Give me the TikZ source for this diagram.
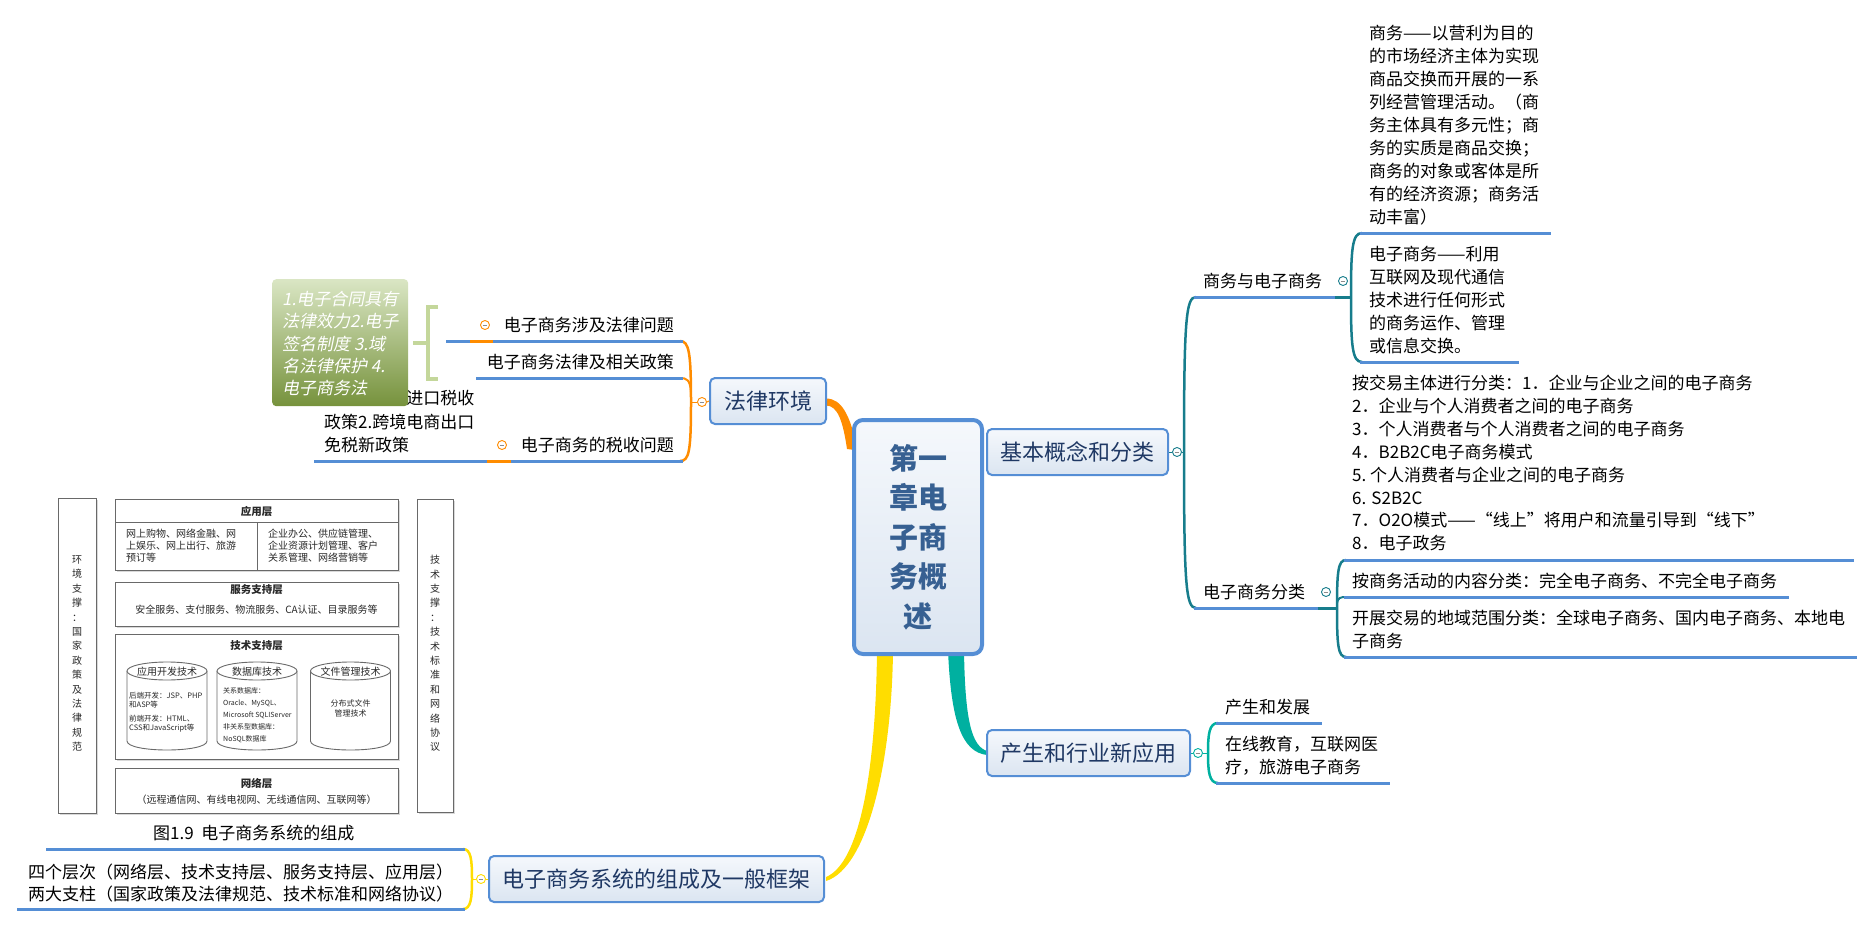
\documentclass[tikz,border=0pt]{standalone}
\usepackage{fontspec}
\setmainfont{Noto Sans CJK SC}
\newfontfamily\slantcjk[FakeSlant=0.2]{Noto Sans CJK SC}
\definecolor{ublue}{RGB}{85,142,213}
\definecolor{orangeL}{RGB}{255,140,0}
\definecolor{tealD}{RGB}{23,125,140}
\definecolor{tealL}{RGB}{0,176,160}
\definecolor{yelL}{RGB}{255,221,0}
\definecolor{navy}{RGB}{31,56,100}
\definecolor{roottext}{RGB}{55,96,146}
\definecolor{fillTop}{RGB}{245,248,252}
\definecolor{fillBot}{RGB}{219,229,241}
\definecolor{greenTop}{RGB}{218,230,196}
\definecolor{greenBot}{RGB}{118,146,60}
\definecolor{brkgreen}{RGB}{196,215,155}
\definecolor{figline}{RGB}{105,105,105}
\definecolor{figtext}{RGB}{40,40,40}
\begin{document}
\begin{tikzpicture}[x=1pt,y=-1pt,
  mainbox/.style={draw=ublue, line width=2pt, rounded corners=5pt, top color=fillTop, bottom color=fillBot, text=navy, font=\fontsize{22}{26}\selectfont, inner sep=0pt},
  rootbox/.style={draw=ublue, line width=4pt, rounded corners=9pt, top color=fillTop, bottom color=fillBot, text=roottext, font=\fontsize{29}{39.5}\selectfont\bfseries, inner sep=0pt, align=center},
  txt/.style={anchor=base west, inner sep=0pt, align=left, font=\fontsize{17}{23}\selectfont, text=black},
  txtr/.style={anchor=base east, inner sep=0pt, font=\fontsize{17}{23}\selectfont, text=black},
  uline/.style={draw=ublue, line width=3pt},
  collapse/.style={circle, draw=#1, fill=white, line width=0.9pt, minimum size=9pt, inner sep=0pt,
    path picture={\draw[black!45, line width=0.8pt] ([xshift=-2.3pt]path picture bounding box.center) -- ([xshift=2.3pt]path picture bounding box.center);}},
  greenbox/.style={rounded corners=4pt, top color=greenTop, bottom color=greenBot, inner sep=0pt, draw=none},
  notetxt/.style={anchor=base west, inner sep=0pt, align=left, font=\fontsize{17}{22.3}\slantcjk, text=white},
  figbox/.style={draw=figline, line width=0.9pt, fill=white},
  figshadow/.style={fill=black!15, draw=none},
  figt/.style={inner sep=0pt, text=figtext, font=\fontsize{10}{12}\selectfont},
  figtitle/.style={inner sep=0pt, text=figtext, font=\fontsize{10.5}{12}\selectfont\bfseries},
  figsmall/.style={inner sep=0pt, text=figtext, anchor=base west, align=left, font=\fontsize{7.5}{9}\selectfont}
]
\useasboundingbox (0,0) rectangle (1875,926);

% ---------- thick tapered connectors from the root ----------
\fill[orangeL] (826,398.5) .. controls (842,398.5) and (849,416) .. (855,438) -- (855,450) -- (847,449) .. controls (843,422) and (838,405.5) .. (826,405.5) -- cycle;
\fill[yelL] (877,650) .. controls (876,760) and (862,862) .. (826,877) -- (826,881) .. controls (868,868) and (892,760) .. (893,650) -- cycle;
\fill[tealL] (948,650) .. controls (951,722) and (962,752) .. (987,755) -- (987,751) .. controls (972,746) and (965,722) .. (964,650) -- cycle;

% ---------- main nodes ----------
\node[rootbox, minimum width=128pt, minimum height=234pt] (root) at (918,537) {第一\\章电\\子商\\务概\\述};
\node[mainbox, minimum width=116pt, minimum height=46pt] (law) at (768,401) {法律环境};
\node[mainbox, minimum width=181pt, minimum height=46pt] (basic) at (1077.5,452) {基本概念和分类};
\node[mainbox, minimum width=203pt, minimum height=46pt] (chan) at (1088.5,753) {产生和行业新应用};
\node[mainbox, minimum width=335pt, minimum height=46pt] (sys) at (656.5,879) {电子商务系统的组成及一般框架};

% ---------- 法律环境 branch ----------
\node[collapse=orangeL] (cLaw) at (702,402) {};
\coordinate (lawBr) at (691,402);
\draw[orangeL, line width=1pt] (law.west) -- (cLaw.east);
\draw[orangeL, line width=1pt] (cLaw.west) -- (lawBr);
\draw[orangeL, line width=2.5pt] (680,341) .. controls (689,341) and (691,352) .. (lawBr) .. controls (691,452) and (689,461) .. (680,461);
\draw[orangeL, line width=2pt] (691,392) .. controls (690,380) and (687,378) .. (680,378);
\draw[uline] (446,341) -- (683,341);
\draw[orangeL, line width=3pt] (470,341) -- (493,341);
\draw[uline] (476,378) -- (683,378);
\draw[uline] (314,461) -- (683,461);
\draw[orangeL, line width=3pt] (487,461) -- (511,461);
\node[collapse=orangeL] (cL1) at (485,325) {};
\node[collapse=orangeL] (cL3) at (502,445) {};
\node[txtr] (l1) at (674,331.5) {电子商务涉及法律问题};
\node[txtr] (l2) at (674,368.5) {电子商务法律及相关政策};
\node[txtr] (l3) at (674,451.5) {电子商务的税收问题};
\node[txt, font=\fontsize{17}{23.5}\selectfont] (l3a) at (324,451.5) {1.跨境电商进口税收\\政策2.跨境电商出口\\免税新政策};
% green note and its bracket
\draw[brkgreen, line width=4.5pt] (438,307) -- (428,307) -- (428,379) -- (438,379);
\draw[brkgreen, line width=4.5pt] (413,343) -- (428,343);
\node[greenbox, minimum width=136pt, minimum height=127pt, anchor=north west] (note) at (272,279) {};
\node[notetxt] (notet) at (282,394.7) {1.电子合同具有\\法律效力2.电子\\签名制度 3.域\\名法律保护 4.\\电子商务法};

% ---------- 基本概念和分类 branch ----------
\node[collapse=tealD] (cBas) at (1177,452) {};
\coordinate (basBr) at (1184,452);
\draw[tealD, line width=1pt] (basic.east) -- (cBas.west);
\draw[tealD, line width=1pt] (cBas.east) -- (basBr);
\draw[tealD, line width=2.5pt] (1196,297) .. controls (1186,297) and (1184,320) .. (basBr) .. controls (1184,585) and (1186,608) .. (1196,608);
\draw[uline] (1194,297) -- (1336,297);
\draw[tealD, line width=3pt] (1335,297) -- (1352,297);
\draw[tealD, line width=2.5pt] (1362,233) .. controls (1352,233) and (1351,250) .. (1351,297) .. controls (1351,345) and (1352,362) .. (1362,362);
\draw[uline] (1360,233) -- (1551,233);
\draw[uline] (1360,362) -- (1519,362);
\draw[uline] (1194,608) -- (1319,608);
\draw[tealD, line width=3pt] (1318,608) -- (1338,608);
\draw[tealD, line width=2.5pt] (1346,560) .. controls (1338,560) and (1337,572) .. (1337,608) .. controls (1337,645) and (1338,657) .. (1346,657);
\draw[tealD, line width=2pt] (1337,603) .. controls (1338,598) and (1340,597) .. (1346,597);
\draw[uline] (1344,560) -- (1854,560);
\draw[uline] (1344,597) -- (1789,597);
\draw[uline] (1344,657) -- (1857,657);
\node[collapse=tealD] (cSw) at (1343,281) {};
\node[collapse=tealD] (cFl) at (1326,592) {};
\node[txt] (swT) at (1203,287.5) {商务与电子商务};
\node[txt] (flT) at (1203,598.5) {电子商务分类};
\node[txt] (sw1) at (1369,223.5) {商务——以营利为目的\\的市场经济主体为实现\\商品交换而开展的一系\\列经营管理活动。（商\\务主体具有多元性；商\\务的实质是商品交换；\\商务的对象或客体是所\\有的经济资源；商务活\\动丰富）};
\node[txt] (sw2) at (1369,352.5) {电子商务——利用\\互联网及现代通信\\技术进行任何形式\\的商务运作、管理\\或信息交换。};
\node[txt, font=\fontsize{17}{22.9}\selectfont] (fl1) at (1352,549.8) {按交易主体进行分类：1．企业与企业之间的电子商务\\2．企业与个人消费者之间的电子商务\\3．个人消费者与个人消费者之间的电子商务\\4．B2B2C电子商务模式\\5.\ 个人消费者与企业之间的电子商务\\6. S2B2C\\7．O2O模式——“线上”将用户和流量引导到“线下”\\8．电子政务};
\node[txt] (fl2) at (1352,587.5) {按商务活动的内容分类：完全电子商务、不完全电子商务};
\node[txt, font=\fontsize{17}{22.5}\selectfont] (fl3) at (1352,647) {开展交易的地域范围分类：全球电子商务、国内电子商务、本地电\\子商务};

% ---------- 产生和行业新应用 branch ----------
\node[collapse=tealL] (cCh) at (1198,753) {};
\coordinate (chBr) at (1208,753);
\draw[tealL, line width=1pt] (chan.east) -- (cCh.west);
\draw[tealL, line width=1pt] (cCh.east) -- (chBr);
\draw[tealL, line width=2.5pt] (1218,723) .. controls (1209,723) and (1208,735) .. (chBr) .. controls (1208,771) and (1209,783) .. (1218,783);
\draw[uline] (1216,723) -- (1322,723);
\draw[uline] (1216,783) -- (1390,783);
\node[txt] (ch1) at (1225,713.5) {产生和发展};
\node[txt] (ch2) at (1225,773.5) {在线教育，互联网医\\疗，旅游电子商务};

% ---------- 电子商务系统 branch ----------
\node[collapse=yelL] (cSys) at (481,879) {};
\coordinate (sysBr) at (472,879);
\draw[yelL, line width=1pt] (sys.west) -- (cSys.east);
\draw[yelL, line width=1pt] (cSys.west) -- (sysBr);
\draw[yelL, line width=2.5pt] (463,849) .. controls (471,849) and (472,860) .. (sysBr) .. controls (472,898) and (471,909) .. (463,909);
\draw[uline] (46,849) -- (465,849);
\draw[uline] (17,909) -- (465,909);
\node[txt] (cap) at (153,839.5) {图1.9\ \ 电子商务系统的组成};
\node[txt, font=\fontsize{17}{22}\selectfont] (sys2) at (28,900.5) {四个层次（网络层、技术支持层、服务支持层、应用层）\\两大支柱（国家政策及法律规范、技术标准和网络协议）};

% ---------- figure 1.9 ----------
\foreach \a/\b/\c/\d in {58/498/96/813, 417/499/453/812, 115/499/398/570, 115/582/398/626, 115/634/398/759, 115/768/398/813}{
  \fill[figshadow] (\a+2,\b+2) rectangle (\c+2,\d+2);
  \draw[figbox] (\a,\b) rectangle (\c,\d);
}
\draw[figline, line width=0.9pt] (115,522) -- (398,522);
\draw[figline, line width=0.9pt] (257,522) -- (257,570);
\node[figt, align=center, font=\fontsize{10}{14.4}\selectfont] (envT) at (77,653.5) {环\\境\\支\\撑\\：\\国\\家\\政\\策\\及\\法\\律\\规\\范};
\node[figt, align=center, font=\fontsize{10}{14.4}\selectfont] (tecT) at (435,653.5) {技\\术\\支\\撑\\：\\技\\术\\标\\准\\和\\网\\络\\协\\议};
\node[figtitle] (appT) at (256.5,511) {应用层};
\node[figt, anchor=base west, align=left] (appL) at (126,561) {网上购物、网络金融、网\\上娱乐、网上出行、旅游\\预订等};
\node[figt, anchor=base west, align=left] (appR) at (268,561) {企业办公、供应链管理、\\企业资源计划管理、客户\\关系管理、网络营销等};
\node[figtitle] (srvT) at (256.5,590) {服务支持层};
\node[figt] (srvB) at (256.5,610) {安全服务、支付服务、物流服务、CA认证、目录服务等};
\node[figtitle] (tspT) at (256.5,646) {技术支持层};
\foreach \cx in {167,257,350.5}{
  \draw[figline, line width=0.9pt, fill=white] (\cx-40,671) -- (\cx-40,741) .. controls (\cx-40,753) and (\cx+40,753) .. (\cx+40,741) -- (\cx+40,671);
  \draw[figline, line width=0.9pt, fill=white] (\cx,671) ellipse [x radius=40, y radius=9];
}
\node[figt] (cy1T) at (167,672) {应用开发技术};
\node[figt] (cy2T) at (257,672) {数据库技术};
\node[figt] (cy3T) at (350.5,672) {文件管理技术};
\node[figsmall] (cy1a) at (129,707) {后端开发：JSP、PHP\\和ASP等};
\node[figsmall] (cy1b) at (129,730) {前端开发：HTML、\\CSS和JavaScript等};
\node[figsmall, font=\fontsize{7}{12}\selectfont] (cy2a) at (223,741) {关系数据库：\\Oracle、MySQL、\\Microsoft SQLIServer\\非关系型数据库：\\NoSQL数据库};
\node[figt, align=center, font=\fontsize{8}{10}\selectfont] (cy3a) at (350.5,708) {分布式文件\\管理技术};
\node[figtitle] (netT) at (256.5,783) {网络层};
\node[figt] (netB) at (256.5,800) {（远程通信网、有线电视网、无线通信网、互联网等）};
\end{tikzpicture}
\end{document}
